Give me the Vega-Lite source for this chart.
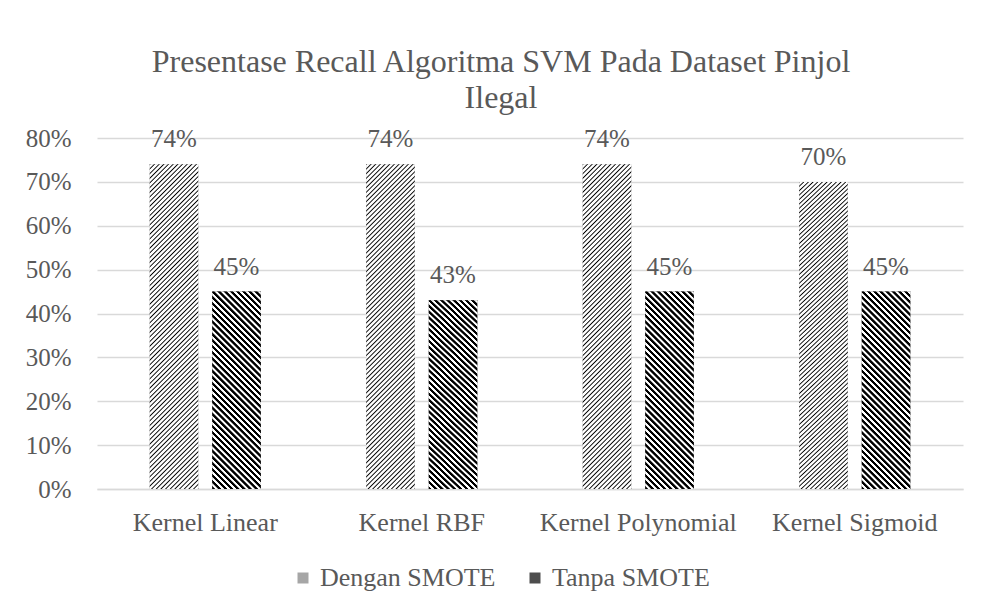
{
  "$schema": "https://vega.github.io/schema/vega-lite/v6.json",
  "width": 866,
  "height": 351,
  "autosize": {"type": "none"},
  "padding": {"left": 97, "top": 138, "right": 20, "bottom": 118},
  "background": "white",
  "title": {
    "text": ["Presentase Recall Algoritma SVM Pada Dataset Pinjol", "Ilegal"],
    "fontSize": 32,
    "font": "Liberation Serif",
    "fontWeight": "normal",
    "color": "#595959",
    "anchor": "middle",
    "frame": "group",
    "dx": -29,
    "offset": 11,
    "lineHeight": 36
  },
  "data": {
    "values": [
      {"k": "Kernel Linear", "s": "Dengan SMOTE", "v": 0.74},
      {"k": "Kernel Linear", "s": "Tanpa SMOTE", "v": 0.45},
      {"k": "Kernel RBF", "s": "Dengan SMOTE", "v": 0.74},
      {"k": "Kernel RBF", "s": "Tanpa SMOTE", "v": 0.43},
      {"k": "Kernel Polynomial", "s": "Dengan SMOTE", "v": 0.74},
      {"k": "Kernel Polynomial", "s": "Tanpa SMOTE", "v": 0.45},
      {"k": "Kernel Sigmoid", "s": "Dengan SMOTE", "v": 0.70},
      {"k": "Kernel Sigmoid", "s": "Tanpa SMOTE", "v": 0.45}
    ]
  },
  "encoding": {
    "x": {
      "field": "k", "type": "nominal", "sort": null,
      "scale": {"paddingInner": 0.487, "paddingOuter": 0.2435},
      "axis": {"title": null, "domain": true, "domainColor": "#d9d9d9", "domainWidth": 1.5, "ticks": false, "tickSize": 0, "labelPadding": 20, "labelAngle": 0, "labelLimit": 400, "labelFontSize": 26, "labelFont": "Liberation Serif", "labelColor": "#595959"}
    },
    "xOffset": {
      "field": "s", "type": "nominal", "sort": null,
      "scale": {"domain": ["Dengan SMOTE", "Tanpa SMOTE"], "paddingInner": 0.224, "paddingOuter": 0}
    },
    "y": {
      "field": "v", "type": "quantitative",
      "scale": {"domain": [0, 0.8], "nice": false},
      "axis": {"title": null, "format": ".0%", "values": [0, 0.1, 0.2, 0.3, 0.4, 0.5, 0.6, 0.7, 0.8], "domain": false, "ticks": false, "tickSize": 0, "labelPadding": 26, "labelFontSize": 25, "labelFont": "Liberation Serif", "labelColor": "#595959", "gridColor": "#d9d9d9", "gridWidth": 1.5}
    }
  },
  "layer": [
    {
      "mark": {"type": "bar"},
      "encoding": {
        "color": {
          "field": "s", "type": "nominal",
          "scale": {"domain": ["Dengan SMOTE", "Tanpa SMOTE"], "range": ["#a6a6a6", "#4d4d4d"]},
          "legend": {
            "title": null, "orient": "none", "legendX": 193, "legendY": 427, "direction": "horizontal",
            "symbolType": "square", "symbolSize": 121, "symbolStrokeWidth": 0,
            "labelFontSize": 26, "labelFont": "Liberation Serif", "labelColor": "#595959", "labelLimit": 400,
            "columnPadding": 26, "labelOffset": 4, "padding": 0,
            "encode": {
              "symbols": {
                "update": {
                  "fill": {"signal": "datum.value === 'Dengan SMOTE' ? {gradient: 'linear', x1: 0, y1: 0, x2: 1, y2: 1, stops: [{offset: 0, color: '#000'}, {offset: 0.07, color: '#fff'}, {offset: 0.18, color: '#fff'}, {offset: 0.25, color: '#000'}, {offset: 0.32, color: '#fff'}, {offset: 0.43, color: '#fff'}, {offset: 0.5, color: '#000'}, {offset: 0.57, color: '#fff'}, {offset: 0.68, color: '#fff'}, {offset: 0.75, color: '#000'}, {offset: 0.82, color: '#fff'}, {offset: 0.93, color: '#fff'}, {offset: 1, color: '#000'}]} : {gradient: 'linear', x1: 0, y1: 1, x2: 1, y2: 0, stops: [{offset: 0, color: '#000'}, {offset: 0.15, color: '#000'}, {offset: 0.19, color: '#fff'}, {offset: 0.3, color: '#fff'}, {offset: 0.333, color: '#000'}, {offset: 0.483, color: '#000'}, {offset: 0.523, color: '#fff'}, {offset: 0.633, color: '#fff'}, {offset: 0.667, color: '#000'}, {offset: 0.817, color: '#000'}, {offset: 0.857, color: '#fff'}, {offset: 0.967, color: '#fff'}, {offset: 1, color: '#000'}]}"}
                }
              }
            }
          }
        }
      }
    },
    {
      "transform": [{"filter": "datum.s === 'Dengan SMOTE'"}],
      "mark": {
        "type": "bar",
        "fill": {
          "gradient": "linear", "x1": 0, "y1": 0, "x2": 0.168, "y2": 1.1243,
          "stops": [
            {"offset": 0, "color": "#000"}, {"offset": 0.0035, "color": "#fff"}, {"offset": 0.009, "color": "#fff"},
            {"offset": 0.0125, "color": "#000"}, {"offset": 0.016, "color": "#fff"}, {"offset": 0.0215, "color": "#fff"},
            {"offset": 0.025, "color": "#000"}, {"offset": 0.0285, "color": "#fff"}, {"offset": 0.034, "color": "#fff"},
            {"offset": 0.0375, "color": "#000"}, {"offset": 0.041, "color": "#fff"}, {"offset": 0.0465, "color": "#fff"},
            {"offset": 0.05, "color": "#000"}, {"offset": 0.0535, "color": "#fff"}, {"offset": 0.059, "color": "#fff"},
            {"offset": 0.0625, "color": "#000"}, {"offset": 0.066, "color": "#fff"}, {"offset": 0.0715, "color": "#fff"},
            {"offset": 0.075, "color": "#000"}, {"offset": 0.0785, "color": "#fff"}, {"offset": 0.084, "color": "#fff"},
            {"offset": 0.0875, "color": "#000"}, {"offset": 0.091, "color": "#fff"}, {"offset": 0.0965, "color": "#fff"},
            {"offset": 0.1, "color": "#000"}, {"offset": 0.1035, "color": "#fff"}, {"offset": 0.109, "color": "#fff"},
            {"offset": 0.1125, "color": "#000"}, {"offset": 0.116, "color": "#fff"}, {"offset": 0.1215, "color": "#fff"},
            {"offset": 0.125, "color": "#000"}, {"offset": 0.1285, "color": "#fff"}, {"offset": 0.134, "color": "#fff"},
            {"offset": 0.1375, "color": "#000"}, {"offset": 0.141, "color": "#fff"}, {"offset": 0.1465, "color": "#fff"},
            {"offset": 0.15, "color": "#000"}, {"offset": 0.1535, "color": "#fff"}, {"offset": 0.159, "color": "#fff"},
            {"offset": 0.1625, "color": "#000"}, {"offset": 0.166, "color": "#fff"}, {"offset": 0.1715, "color": "#fff"},
            {"offset": 0.175, "color": "#000"}, {"offset": 0.1785, "color": "#fff"}, {"offset": 0.184, "color": "#fff"},
            {"offset": 0.1875, "color": "#000"}, {"offset": 0.191, "color": "#fff"}, {"offset": 0.1965, "color": "#fff"},
            {"offset": 0.2, "color": "#000"}, {"offset": 0.2035, "color": "#fff"}, {"offset": 0.209, "color": "#fff"},
            {"offset": 0.2125, "color": "#000"}, {"offset": 0.216, "color": "#fff"}, {"offset": 0.2215, "color": "#fff"},
            {"offset": 0.225, "color": "#000"}, {"offset": 0.2285, "color": "#fff"}, {"offset": 0.234, "color": "#fff"},
            {"offset": 0.2375, "color": "#000"}, {"offset": 0.241, "color": "#fff"}, {"offset": 0.2465, "color": "#fff"},
            {"offset": 0.25, "color": "#000"}, {"offset": 0.2535, "color": "#fff"}, {"offset": 0.259, "color": "#fff"},
            {"offset": 0.2625, "color": "#000"}, {"offset": 0.266, "color": "#fff"}, {"offset": 0.2715, "color": "#fff"},
            {"offset": 0.275, "color": "#000"}, {"offset": 0.2785, "color": "#fff"}, {"offset": 0.284, "color": "#fff"},
            {"offset": 0.2875, "color": "#000"}, {"offset": 0.291, "color": "#fff"}, {"offset": 0.2965, "color": "#fff"},
            {"offset": 0.3, "color": "#000"}, {"offset": 0.3035, "color": "#fff"}, {"offset": 0.309, "color": "#fff"},
            {"offset": 0.3125, "color": "#000"}, {"offset": 0.316, "color": "#fff"}, {"offset": 0.3215, "color": "#fff"},
            {"offset": 0.325, "color": "#000"}, {"offset": 0.3285, "color": "#fff"}, {"offset": 0.334, "color": "#fff"},
            {"offset": 0.3375, "color": "#000"}, {"offset": 0.341, "color": "#fff"}, {"offset": 0.3465, "color": "#fff"},
            {"offset": 0.35, "color": "#000"}, {"offset": 0.3535, "color": "#fff"}, {"offset": 0.359, "color": "#fff"},
            {"offset": 0.3625, "color": "#000"}, {"offset": 0.366, "color": "#fff"}, {"offset": 0.3715, "color": "#fff"},
            {"offset": 0.375, "color": "#000"}, {"offset": 0.3785, "color": "#fff"}, {"offset": 0.384, "color": "#fff"},
            {"offset": 0.3875, "color": "#000"}, {"offset": 0.391, "color": "#fff"}, {"offset": 0.3965, "color": "#fff"},
            {"offset": 0.4, "color": "#000"}, {"offset": 0.4035, "color": "#fff"}, {"offset": 0.409, "color": "#fff"},
            {"offset": 0.4125, "color": "#000"}, {"offset": 0.416, "color": "#fff"}, {"offset": 0.4215, "color": "#fff"},
            {"offset": 0.425, "color": "#000"}, {"offset": 0.4285, "color": "#fff"}, {"offset": 0.434, "color": "#fff"},
            {"offset": 0.4375, "color": "#000"}, {"offset": 0.441, "color": "#fff"}, {"offset": 0.4465, "color": "#fff"},
            {"offset": 0.45, "color": "#000"}, {"offset": 0.4535, "color": "#fff"}, {"offset": 0.459, "color": "#fff"},
            {"offset": 0.4625, "color": "#000"}, {"offset": 0.466, "color": "#fff"}, {"offset": 0.4715, "color": "#fff"},
            {"offset": 0.475, "color": "#000"}, {"offset": 0.4785, "color": "#fff"}, {"offset": 0.484, "color": "#fff"},
            {"offset": 0.4875, "color": "#000"}, {"offset": 0.491, "color": "#fff"}, {"offset": 0.4965, "color": "#fff"},
            {"offset": 0.5, "color": "#000"}, {"offset": 0.5035, "color": "#fff"}, {"offset": 0.509, "color": "#fff"},
            {"offset": 0.5125, "color": "#000"}, {"offset": 0.516, "color": "#fff"}, {"offset": 0.5215, "color": "#fff"},
            {"offset": 0.525, "color": "#000"}, {"offset": 0.5285, "color": "#fff"}, {"offset": 0.534, "color": "#fff"},
            {"offset": 0.5375, "color": "#000"}, {"offset": 0.541, "color": "#fff"}, {"offset": 0.5465, "color": "#fff"},
            {"offset": 0.55, "color": "#000"}, {"offset": 0.5535, "color": "#fff"}, {"offset": 0.559, "color": "#fff"},
            {"offset": 0.5625, "color": "#000"}, {"offset": 0.566, "color": "#fff"}, {"offset": 0.5715, "color": "#fff"},
            {"offset": 0.575, "color": "#000"}, {"offset": 0.5785, "color": "#fff"}, {"offset": 0.584, "color": "#fff"},
            {"offset": 0.5875, "color": "#000"}, {"offset": 0.591, "color": "#fff"}, {"offset": 0.5965, "color": "#fff"},
            {"offset": 0.6, "color": "#000"}, {"offset": 0.6035, "color": "#fff"}, {"offset": 0.609, "color": "#fff"},
            {"offset": 0.6125, "color": "#000"}, {"offset": 0.616, "color": "#fff"}, {"offset": 0.6215, "color": "#fff"},
            {"offset": 0.625, "color": "#000"}, {"offset": 0.6285, "color": "#fff"}, {"offset": 0.634, "color": "#fff"},
            {"offset": 0.6375, "color": "#000"}, {"offset": 0.641, "color": "#fff"}, {"offset": 0.6465, "color": "#fff"},
            {"offset": 0.65, "color": "#000"}, {"offset": 0.6535, "color": "#fff"}, {"offset": 0.659, "color": "#fff"},
            {"offset": 0.6625, "color": "#000"}, {"offset": 0.666, "color": "#fff"}, {"offset": 0.6715, "color": "#fff"},
            {"offset": 0.675, "color": "#000"}, {"offset": 0.6785, "color": "#fff"}, {"offset": 0.684, "color": "#fff"},
            {"offset": 0.6875, "color": "#000"}, {"offset": 0.691, "color": "#fff"}, {"offset": 0.6965, "color": "#fff"},
            {"offset": 0.7, "color": "#000"}, {"offset": 0.7035, "color": "#fff"}, {"offset": 0.709, "color": "#fff"},
            {"offset": 0.7125, "color": "#000"}, {"offset": 0.716, "color": "#fff"}, {"offset": 0.7215, "color": "#fff"},
            {"offset": 0.725, "color": "#000"}, {"offset": 0.7285, "color": "#fff"}, {"offset": 0.734, "color": "#fff"},
            {"offset": 0.7375, "color": "#000"}, {"offset": 0.741, "color": "#fff"}, {"offset": 0.7465, "color": "#fff"},
            {"offset": 0.75, "color": "#000"}, {"offset": 0.7535, "color": "#fff"}, {"offset": 0.759, "color": "#fff"},
            {"offset": 0.7625, "color": "#000"}, {"offset": 0.766, "color": "#fff"}, {"offset": 0.7715, "color": "#fff"},
            {"offset": 0.775, "color": "#000"}, {"offset": 0.7785, "color": "#fff"}, {"offset": 0.784, "color": "#fff"},
            {"offset": 0.7875, "color": "#000"}, {"offset": 0.791, "color": "#fff"}, {"offset": 0.7965, "color": "#fff"},
            {"offset": 0.8, "color": "#000"}, {"offset": 0.8035, "color": "#fff"}, {"offset": 0.809, "color": "#fff"},
            {"offset": 0.8125, "color": "#000"}, {"offset": 0.816, "color": "#fff"}, {"offset": 0.8215, "color": "#fff"},
            {"offset": 0.825, "color": "#000"}, {"offset": 0.8285, "color": "#fff"}, {"offset": 0.834, "color": "#fff"},
            {"offset": 0.8375, "color": "#000"}, {"offset": 0.841, "color": "#fff"}, {"offset": 0.8465, "color": "#fff"},
            {"offset": 0.85, "color": "#000"}, {"offset": 0.8535, "color": "#fff"}, {"offset": 0.859, "color": "#fff"},
            {"offset": 0.8625, "color": "#000"}, {"offset": 0.866, "color": "#fff"}, {"offset": 0.8715, "color": "#fff"},
            {"offset": 0.875, "color": "#000"}, {"offset": 0.8785, "color": "#fff"}, {"offset": 0.884, "color": "#fff"},
            {"offset": 0.8875, "color": "#000"}, {"offset": 0.891, "color": "#fff"}, {"offset": 0.8965, "color": "#fff"},
            {"offset": 0.9, "color": "#000"}, {"offset": 0.9035, "color": "#fff"}, {"offset": 0.909, "color": "#fff"},
            {"offset": 0.9125, "color": "#000"}, {"offset": 0.916, "color": "#fff"}, {"offset": 0.9215, "color": "#fff"},
            {"offset": 0.925, "color": "#000"}, {"offset": 0.9285, "color": "#fff"}, {"offset": 0.934, "color": "#fff"},
            {"offset": 0.9375, "color": "#000"}, {"offset": 0.941, "color": "#fff"}, {"offset": 0.9465, "color": "#fff"},
            {"offset": 0.95, "color": "#000"}, {"offset": 0.9535, "color": "#fff"}, {"offset": 0.959, "color": "#fff"},
            {"offset": 0.9625, "color": "#000"}, {"offset": 0.966, "color": "#fff"}, {"offset": 0.9715, "color": "#fff"},
            {"offset": 0.975, "color": "#000"}, {"offset": 0.9785, "color": "#fff"}, {"offset": 0.984, "color": "#fff"},
            {"offset": 0.9875, "color": "#000"}, {"offset": 0.991, "color": "#fff"}, {"offset": 0.9965, "color": "#fff"},
            {"offset": 1, "color": "#000"}
          ]
        }
      }
    },
    {
      "transform": [{"filter": "datum.s === 'Tanpa SMOTE'"}],
      "mark": {
        "type": "bar",
        "fill": {
          "gradient": "linear", "x1": 0, "y1": 1, "x2": 0.2886, "y2": -0.1748,
          "stops": [
            {"offset": 0, "color": "#000"}, {"offset": 0.0105, "color": "#000"}, {"offset": 0.0135, "color": "#fff"}, {"offset": 0.0225, "color": "#fff"},
            {"offset": 0.025, "color": "#000"}, {"offset": 0.0355, "color": "#000"}, {"offset": 0.0385, "color": "#fff"}, {"offset": 0.0475, "color": "#fff"},
            {"offset": 0.05, "color": "#000"}, {"offset": 0.0605, "color": "#000"}, {"offset": 0.0635, "color": "#fff"}, {"offset": 0.0725, "color": "#fff"},
            {"offset": 0.075, "color": "#000"}, {"offset": 0.0855, "color": "#000"}, {"offset": 0.0885, "color": "#fff"}, {"offset": 0.0975, "color": "#fff"},
            {"offset": 0.1, "color": "#000"}, {"offset": 0.1105, "color": "#000"}, {"offset": 0.1135, "color": "#fff"}, {"offset": 0.1225, "color": "#fff"},
            {"offset": 0.125, "color": "#000"}, {"offset": 0.1355, "color": "#000"}, {"offset": 0.1385, "color": "#fff"}, {"offset": 0.1475, "color": "#fff"},
            {"offset": 0.15, "color": "#000"}, {"offset": 0.1605, "color": "#000"}, {"offset": 0.1635, "color": "#fff"}, {"offset": 0.1725, "color": "#fff"},
            {"offset": 0.175, "color": "#000"}, {"offset": 0.1855, "color": "#000"}, {"offset": 0.1885, "color": "#fff"}, {"offset": 0.1975, "color": "#fff"},
            {"offset": 0.2, "color": "#000"}, {"offset": 0.2105, "color": "#000"}, {"offset": 0.2135, "color": "#fff"}, {"offset": 0.2225, "color": "#fff"},
            {"offset": 0.225, "color": "#000"}, {"offset": 0.2355, "color": "#000"}, {"offset": 0.2385, "color": "#fff"}, {"offset": 0.2475, "color": "#fff"},
            {"offset": 0.25, "color": "#000"}, {"offset": 0.2605, "color": "#000"}, {"offset": 0.2635, "color": "#fff"}, {"offset": 0.2725, "color": "#fff"},
            {"offset": 0.275, "color": "#000"}, {"offset": 0.2855, "color": "#000"}, {"offset": 0.2885, "color": "#fff"}, {"offset": 0.2975, "color": "#fff"},
            {"offset": 0.3, "color": "#000"}, {"offset": 0.3105, "color": "#000"}, {"offset": 0.3135, "color": "#fff"}, {"offset": 0.3225, "color": "#fff"},
            {"offset": 0.325, "color": "#000"}, {"offset": 0.3355, "color": "#000"}, {"offset": 0.3385, "color": "#fff"}, {"offset": 0.3475, "color": "#fff"},
            {"offset": 0.35, "color": "#000"}, {"offset": 0.3605, "color": "#000"}, {"offset": 0.3635, "color": "#fff"}, {"offset": 0.3725, "color": "#fff"},
            {"offset": 0.375, "color": "#000"}, {"offset": 0.3855, "color": "#000"}, {"offset": 0.3885, "color": "#fff"}, {"offset": 0.3975, "color": "#fff"},
            {"offset": 0.4, "color": "#000"}, {"offset": 0.4105, "color": "#000"}, {"offset": 0.4135, "color": "#fff"}, {"offset": 0.4225, "color": "#fff"},
            {"offset": 0.425, "color": "#000"}, {"offset": 0.4355, "color": "#000"}, {"offset": 0.4385, "color": "#fff"}, {"offset": 0.4475, "color": "#fff"},
            {"offset": 0.45, "color": "#000"}, {"offset": 0.4605, "color": "#000"}, {"offset": 0.4635, "color": "#fff"}, {"offset": 0.4725, "color": "#fff"},
            {"offset": 0.475, "color": "#000"}, {"offset": 0.4855, "color": "#000"}, {"offset": 0.4885, "color": "#fff"}, {"offset": 0.4975, "color": "#fff"},
            {"offset": 0.5, "color": "#000"}, {"offset": 0.5105, "color": "#000"}, {"offset": 0.5135, "color": "#fff"}, {"offset": 0.5225, "color": "#fff"},
            {"offset": 0.525, "color": "#000"}, {"offset": 0.5355, "color": "#000"}, {"offset": 0.5385, "color": "#fff"}, {"offset": 0.5475, "color": "#fff"},
            {"offset": 0.55, "color": "#000"}, {"offset": 0.5605, "color": "#000"}, {"offset": 0.5635, "color": "#fff"}, {"offset": 0.5725, "color": "#fff"},
            {"offset": 0.575, "color": "#000"}, {"offset": 0.5855, "color": "#000"}, {"offset": 0.5885, "color": "#fff"}, {"offset": 0.5975, "color": "#fff"},
            {"offset": 0.6, "color": "#000"}, {"offset": 0.6105, "color": "#000"}, {"offset": 0.6135, "color": "#fff"}, {"offset": 0.6225, "color": "#fff"},
            {"offset": 0.625, "color": "#000"}, {"offset": 0.6355, "color": "#000"}, {"offset": 0.6385, "color": "#fff"}, {"offset": 0.6475, "color": "#fff"},
            {"offset": 0.65, "color": "#000"}, {"offset": 0.6605, "color": "#000"}, {"offset": 0.6635, "color": "#fff"}, {"offset": 0.6725, "color": "#fff"},
            {"offset": 0.675, "color": "#000"}, {"offset": 0.6855, "color": "#000"}, {"offset": 0.6885, "color": "#fff"}, {"offset": 0.6975, "color": "#fff"},
            {"offset": 0.7, "color": "#000"}, {"offset": 0.7105, "color": "#000"}, {"offset": 0.7135, "color": "#fff"}, {"offset": 0.7225, "color": "#fff"},
            {"offset": 0.725, "color": "#000"}, {"offset": 0.7355, "color": "#000"}, {"offset": 0.7385, "color": "#fff"}, {"offset": 0.7475, "color": "#fff"},
            {"offset": 0.75, "color": "#000"}, {"offset": 0.7605, "color": "#000"}, {"offset": 0.7635, "color": "#fff"}, {"offset": 0.7725, "color": "#fff"},
            {"offset": 0.775, "color": "#000"}, {"offset": 0.7855, "color": "#000"}, {"offset": 0.7885, "color": "#fff"}, {"offset": 0.7975, "color": "#fff"},
            {"offset": 0.8, "color": "#000"}, {"offset": 0.8105, "color": "#000"}, {"offset": 0.8135, "color": "#fff"}, {"offset": 0.8225, "color": "#fff"},
            {"offset": 0.825, "color": "#000"}, {"offset": 0.8355, "color": "#000"}, {"offset": 0.8385, "color": "#fff"}, {"offset": 0.8475, "color": "#fff"},
            {"offset": 0.85, "color": "#000"}, {"offset": 0.8605, "color": "#000"}, {"offset": 0.8635, "color": "#fff"}, {"offset": 0.8725, "color": "#fff"},
            {"offset": 0.875, "color": "#000"}, {"offset": 0.8855, "color": "#000"}, {"offset": 0.8885, "color": "#fff"}, {"offset": 0.8975, "color": "#fff"},
            {"offset": 0.9, "color": "#000"}, {"offset": 0.9105, "color": "#000"}, {"offset": 0.9135, "color": "#fff"}, {"offset": 0.9225, "color": "#fff"},
            {"offset": 0.925, "color": "#000"}, {"offset": 0.9355, "color": "#000"}, {"offset": 0.9385, "color": "#fff"}, {"offset": 0.9475, "color": "#fff"},
            {"offset": 0.95, "color": "#000"}, {"offset": 0.9605, "color": "#000"}, {"offset": 0.9635, "color": "#fff"}, {"offset": 0.9725, "color": "#fff"},
            {"offset": 0.975, "color": "#000"}, {"offset": 0.9855, "color": "#000"}, {"offset": 0.9885, "color": "#fff"}, {"offset": 0.9975, "color": "#fff"},
            {"offset": 1, "color": "#000"}
          ]
        }
      }
    },
    {
      "mark": {"type": "text", "dy": -17, "baseline": "alphabetic", "fontSize": 25, "font": "Liberation Serif", "color": "#595959"},
      "encoding": {
        "text": {"field": "v", "type": "quantitative", "format": ".0%"}
      }
    }
  ],
  "config": {
    "view": {"stroke": null},
    "font": "Liberation Serif"
  }
}
